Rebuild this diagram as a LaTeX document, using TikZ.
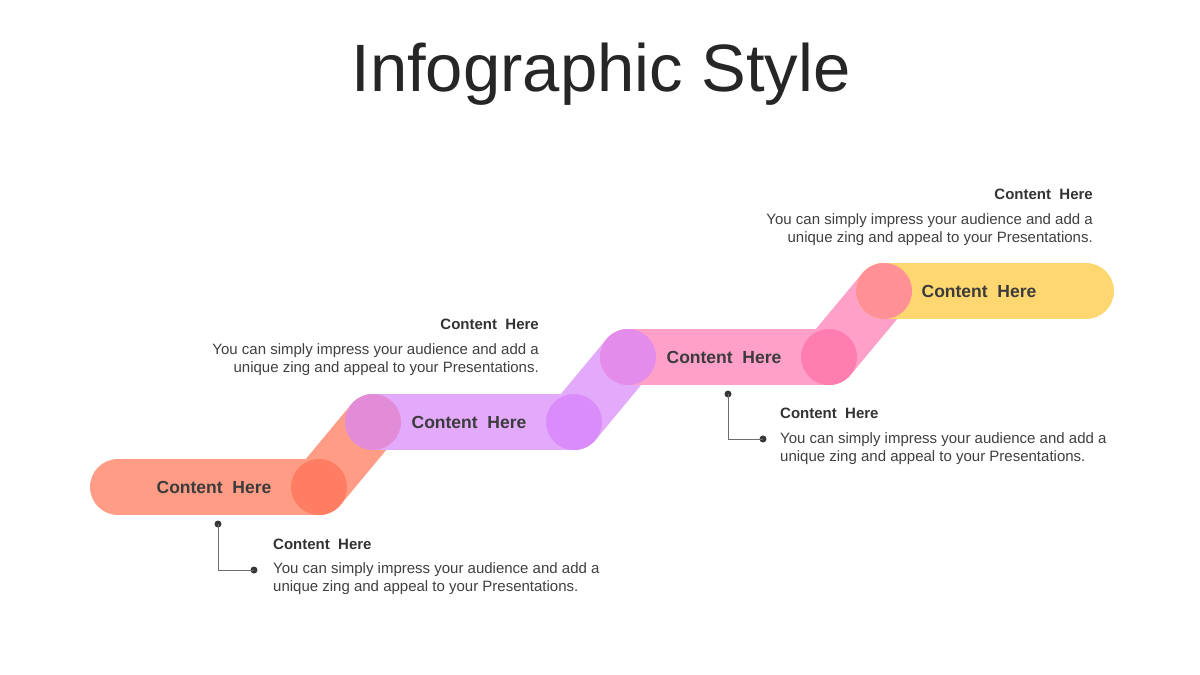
\documentclass[tikz,border=0pt]{standalone}
\usepackage{fontspec}
\setmainfont{Liberation Sans}
\definecolor{salmon}{RGB}{255,156,134}
\definecolor{salmonj}{RGB}{255,126,99}
\definecolor{purp}{RGB}{227,170,252}
\definecolor{mauvej}{RGB}{226,140,215}
\definecolor{purpj}{RGB}{218,140,250}
\definecolor{purpinkj}{RGB}{228,140,235}
\definecolor{pinkb}{RGB}{255,160,200}
\definecolor{pinkj}{RGB}{255,125,175}
\definecolor{pinkyj}{RGB}{255,145,150}
\definecolor{yell}{RGB}{255,215,112}
\definecolor{titlegray}{RGB}{38,38,38}
\definecolor{labelgray}{RGB}{59,59,59}
\definecolor{headgray}{RGB}{51,51,51}
\definecolor{bodygray}{RGB}{64,64,64}
\definecolor{linegray}{RGB}{110,110,110}
\definecolor{dotgray}{RGB}{55,55,55}
\begin{document}
\begin{tikzpicture}[x=1pt,y=-1pt,
  bar/.style={line width=56pt, line cap=round},
  lbl/.style={font=\fontsize{17.5}{20}\selectfont\bfseries, text=labelgray, inner sep=0pt},
  ctitle/.style={font=\fontsize{15}{18}\selectfont\bfseries, text=headgray, inner sep=0pt},
  cbody/.style={font=\fontsize{15}{18}\selectfont, text=bodygray, inner sep=0pt},
  dotnode/.style={circle, fill=dotgray, minimum size=7pt, inner sep=0pt},
  callline/.style={draw=linegray, line width=1pt}]
\useasboundingbox (0,0) rectangle (1200,675);
\fill[white] (0,0) rectangle (1200,675);

% title
\node[font=\fontsize{67}{80}\selectfont, text=titlegray, inner sep=0pt, anchor=base] (title) at (601,91) {Infographic Style};

% joint coordinates
\coordinate (j1) at (118,487);
\coordinate (j2) at (319,487);
\coordinate (j3) at (373,422);
\coordinate (j4) at (574,422);
\coordinate (j5) at (628,357);
\coordinate (j6) at (829,357);
\coordinate (j7) at (884,291);
\coordinate (j8) at (1086,291);

% diagonals
\draw[bar, salmon] (j2) -- (j3);
\draw[bar, purp] (j4) -- (j5);
\draw[bar, pinkb] (j6) -- (j7);
% bars
\draw[bar, salmon] (j1) -- (j2);
\draw[bar, purp] (j3) -- (j4);
\draw[bar, pinkb] (j5) -- (j6);
\draw[bar, yell] (j7) -- (j8);
% joint circles
\fill[salmonj] (j2) circle (28pt);
\fill[mauvej] (j3) circle (28pt);
\fill[purpj] (j4) circle (28pt);
\fill[purpinkj] (j5) circle (28pt);
\fill[pinkj] (j6) circle (28pt);
\fill[pinkyj] (j7) circle (28pt);

% bar labels
\node[lbl] (l1) at (214,487) {Content\ \ Here};
\node[lbl] (l2) at (469,422) {Content\ \ Here};
\node[lbl] (l3) at (724,357) {Content\ \ Here};
\node[lbl] (l4) at (979,291) {Content\ \ Here};

% callout 1 (bottom)
\node[dotnode] (d1a) at (218,524) {};
\node[dotnode] (d1b) at (254,570) {};
\draw[callline] (d1a.center) |- (d1b.center);
\node[ctitle, anchor=base west] (t1) at (273,549) {Content\ \ Here};
\node[cbody, anchor=base west] (b1a) at (273,573.5) {You can simply impress your audience and add a};
\node[cbody, anchor=base west] (b1b) at (273,591.5) {unique zing and appeal to your Presentations.};

% callout 2 (upper left)
\node[ctitle, anchor=base east] (t2) at (539,329) {Content\ \ Here};
\node[cbody, anchor=base east] (b2a) at (539,354) {You can simply impress your audience and add a};
\node[cbody, anchor=base east] (b2b) at (539,372) {unique zing and appeal to your Presentations.};

% callout 3 (right of pink bar)
\node[dotnode] (d3a) at (728,394) {};
\node[dotnode] (d3b) at (763,439) {};
\draw[callline] (d3a.center) |- (d3b.center);
\node[ctitle, anchor=base west] (t3) at (780,418) {Content\ \ Here};
\node[cbody, anchor=base west] (b3a) at (780,443) {You can simply impress your audience and add a};
\node[cbody, anchor=base west] (b3b) at (780,461) {unique zing and appeal to your Presentations.};

% callout 4 (top right)
\node[ctitle, anchor=base east] (t4) at (1093,199) {Content\ \ Here};
\node[cbody, anchor=base east] (b4a) at (1093,224) {You can simply impress your audience and add a};
\node[cbody, anchor=base east] (b4b) at (1093,242) {unique zing and appeal to your Presentations.};
\end{tikzpicture}
\end{document}
